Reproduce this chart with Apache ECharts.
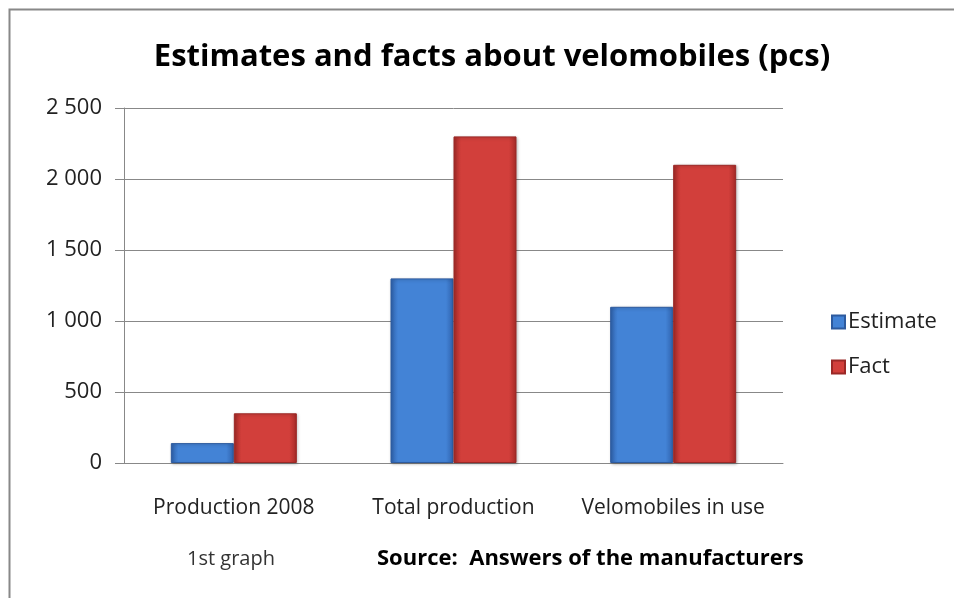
<!DOCTYPE html>
<html>
<head>
<meta charset="utf-8">
<script src="https://cdn.jsdelivr.net/npm/echarts@6/dist/echarts.min.js"></script>
<style>
  html, body { margin: 0; padding: 0; background: #fff; }
  #chart { width: 954px; height: 598px; }
</style>
</head>
<body>
<div id="chart"></div>
<script>
var categories = ['Production 2008', 'Total production', 'Velomobiles in use'];
var estimate = [140, 1300, 1100];
var fact = [350, 2300, 2100];
var seriesNames = ['Estimate', 'Fact'];

var FONT = '"Open Sans", sans-serif';

function barColor(dark, mid) {
  return new echarts.graphic.LinearGradient(0, 0, 1, 0, [
    { offset: 0, color: dark },
    { offset: 0.12, color: mid },
    { offset: 0.88, color: mid },
    { offset: 1, color: dark }
  ]);
}

var myChart = echarts.init(document.getElementById('chart'));
myChart.setOption({
  animation: false,
  backgroundColor: '#fff',
  title: {
    text: 'Estimates and facts about velomobiles (pcs)',
    left: 487, top: 37, textAlign: 'center',
    textStyle: { fontFamily: FONT, fontWeight: 'bold', fontSize: 31, color: '#000' }
  },
  legend: {
    orient: 'vertical',
    left: 826, top: 306,
    itemWidth: 13, itemHeight: 13, itemGap: 23,
    icon: 'rect',
    textStyle: { fontFamily: FONT, fontSize: 22, color: '#222', padding: [0, 0, 0, -2] },
    data: seriesNames
  },
  grid: { left: 124, right: 171, top: 108, bottom: 135 },
  xAxis: {
    type: 'category',
    data: categories,
    axisLine: { lineStyle: { color: '#888' } },
    axisTick: { show: false },
    axisLabel: { interval: 0, fontFamily: FONT, fontSize: 21, color: '#222', margin: 35 }
  },
  yAxis: {
    type: 'value',
    min: 0, max: 2500, interval: 500,
    axisLine: { show: true, lineStyle: { color: '#888' } },
    axisTick: { show: true, length: 9, lineStyle: { color: '#888' } },
    splitLine: { lineStyle: { color: '#888' } },
    axisLabel: {
      fontFamily: FONT, fontSize: 22, color: '#222', margin: 22,
      formatter: function (v) { return String(v).replace(/\B(?=(\d{3})+(?!\d))/g, ' '); }
    }
  },
  series: [
    {
      name: 'Estimate', type: 'bar', data: estimate,
      barWidth: 63, barGap: '0%',
      itemStyle: {
        color: barColor('#2f62ad', '#4383d6'),
        borderColor: '#2d5a9e', borderWidth: 1,
        shadowColor: 'rgba(0,0,0,0.25)', shadowBlur: 3, shadowOffsetX: 1, shadowOffsetY: 1
      }
    },
    {
      name: 'Fact', type: 'bar', data: fact,
      barWidth: 63, barGap: '0%',
      itemStyle: {
        color: barColor('#a52a27', '#d23f3b'),
        borderColor: '#9a2826', borderWidth: 1,
        shadowColor: 'rgba(0,0,0,0.25)', shadowBlur: 3, shadowOffsetX: 1, shadowOffsetY: 1
      }
    }
  ],
  graphic: [
    {
      type: 'polyline', silent: true,
      shape: { points: [[9.5, 598], [9.5, 9.5], [954, 9.5]] },
      style: { stroke: '#888', lineWidth: 2, fill: null }
    },
    {
      type: 'text', left: 187, top: 549,
      style: { text: '1st graph', font: '20px ' + FONT, fill: '#333' }
    },
    {
      type: 'text', left: 377, top: 548,
      style: { text: 'Source:  Answers of the manufacturers', font: 'bold 22px ' + FONT, fill: '#000' }
    }
  ]
});
</script>
</body>
</html>
